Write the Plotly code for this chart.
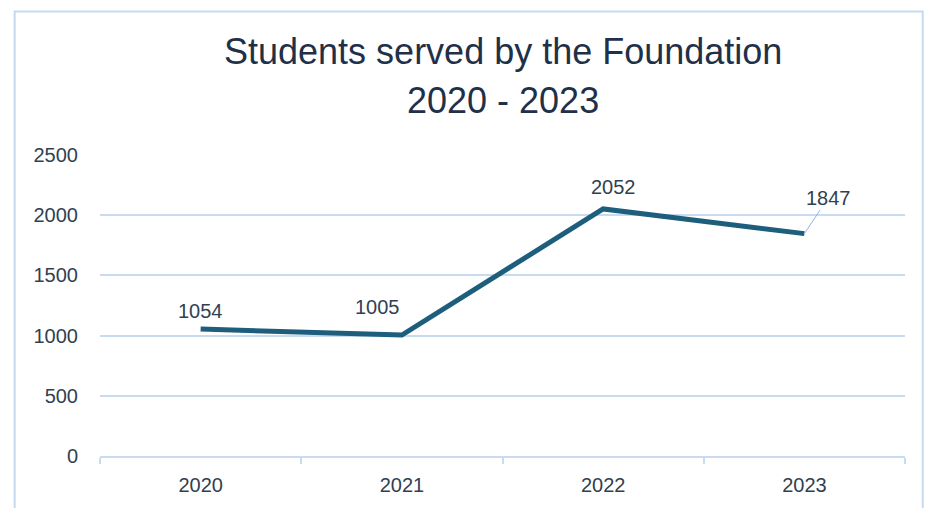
import plotly.graph_objects as go

years = ["2020", "2021", "2022", "2023"]
students = [1054, 1005, 2052, 1847]
y_ticks = [0, 500, 1000, 1500, 2000, 2500]

title_line1 = "Students served by the Foundation"
title_line2 = "2020 - 2023"

LINE_COLOR = "#1c5e7c"
GRID_COLOR = "#c9dbf1"
TEXT_COLOR = "#313f52"
TITLE_COLOR = "#1f3049"
FONT = "Liberation Sans, Arial, sans-serif"

fig = go.Figure()

fig.add_trace(
    go.Scatter(
        x=years,
        y=students,
        mode="lines",
        line=dict(color=LINE_COLOR, width=5),
        hoverinfo="x+y",
        showlegend=False,
    )
)

# data labels, nudged the way the original chart placed them
# (x given as category index so "2020" isn't read as a number)
label_offsets = [
    dict(xshift=0, yshift=18),
    dict(xshift=-24, yshift=28),
    dict(xshift=10, yshift=22),
    None,
]
for i, (val, off) in enumerate(zip(students, label_offsets)):
    if off is not None:
        fig.add_annotation(
            x=i, y=val, text=str(val), showarrow=False,
            font=dict(size=20, color=TEXT_COLOR, family=FONT),
            **off,
        )
    else:
        # last label sits off the point with a leader line
        fig.add_annotation(
            x=i, y=val, text=str(val), showarrow=True,
            arrowhead=0, arrowwidth=1, arrowcolor="#8fb4e3",
            ax=24, ay=-36, standoff=0,
            font=dict(size=20, color=TEXT_COLOR, family=FONT),
        )

for txt, ypos in [(title_line1, 1.343), (title_line2, 1.180)]:
    fig.add_annotation(
        x=0.5, y=ypos, xref="paper", yref="paper", text=txt, showarrow=False,
        xanchor="center", yanchor="middle",
        font=dict(size=36, color=TITLE_COLOR, family=FONT),
    )

# chart border
fig.add_shape(
    type="rect", xref="paper", yref="paper",
    x0=-0.106, x1=1.022, y0=-0.2, y1=1.477,
    line=dict(color="#c6d9f1", width=2), layer="below",
)

# figure sized so it fits inside the window with the 8px body margin
fig.update_layout(
    width=916,
    height=500,
    margin=dict(l=92, r=19, t=147, b=47),
    paper_bgcolor="white",
    plot_bgcolor="white",
    font=dict(family=FONT, size=20, color=TEXT_COLOR),
)
fig.update_xaxes(
    type="category",
    range=[-0.5, 3.5],
    showgrid=False,
    showline=True,
    linecolor=GRID_COLOR,
    linewidth=2,
    ticks="outside",
    tickson="boundaries",
    ticklen=6,
    tickcolor=GRID_COLOR,
    tickwidth=2,
    ticklabelstandoff=10,
    tickfont=dict(size=20, color=TEXT_COLOR),
)
fig.update_yaxes(
    range=[0, 2500],
    tickvals=y_ticks,
    showgrid=True,
    gridcolor=GRID_COLOR,
    gridwidth=2,
    zeroline=False,
    showline=False,
    ticklabelstandoff=21,
    tickfont=dict(size=20, color=TEXT_COLOR),
)

fig.write_html("out.html")
